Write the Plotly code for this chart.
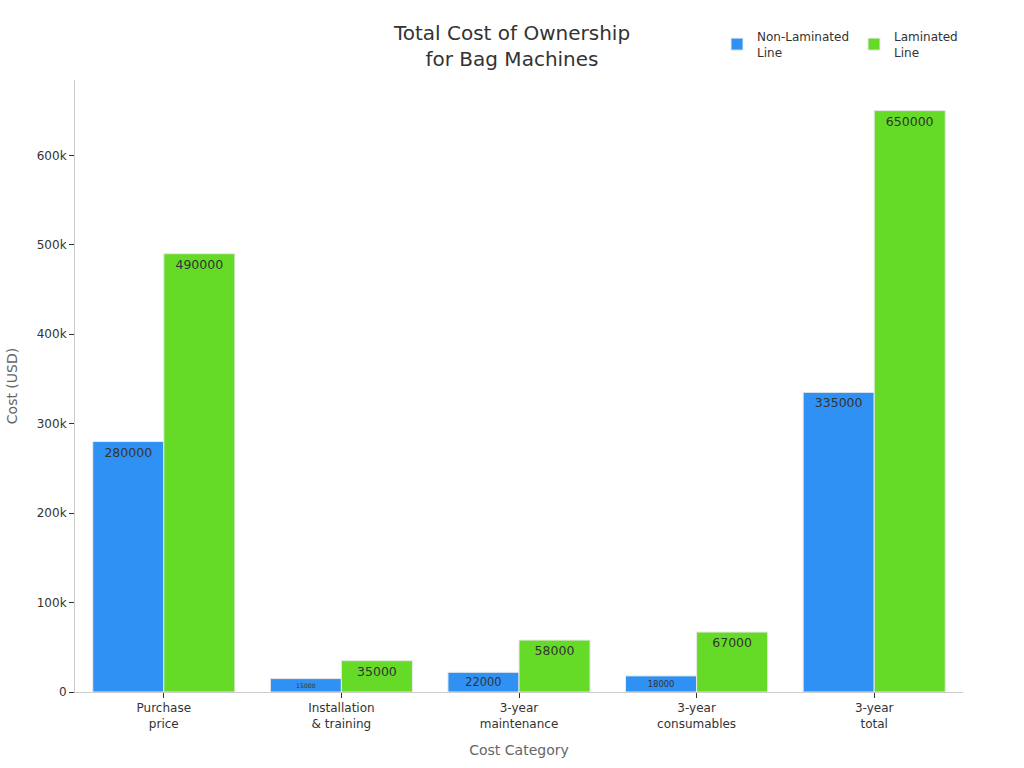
import plotly.graph_objects as go

categories = ["Purchase<br>price", "Installation<br>& training", "3-year<br>maintenance", "3-year<br>consumables", "3-year<br>total"]
non_laminated = [280000, 15000, 22000, 18000, 335000]
laminated = [490000, 35000, 58000, 67000, 650000]
series_names = ["Non-Laminated<br>Line", "Laminated<br>Line"]
colors = ["#3091f5", "#66db27"]

fig = go.Figure()
for name, vals, col in zip(series_names, [non_laminated, laminated], colors):
    fig.add_trace(go.Bar(
        x=categories, y=vals, name=name,
        marker=dict(color=col, line=dict(color="#e8e8e8", width=1)),
        text=[str(v) for v in vals], textposition="inside", insidetextanchor="end",
        insidetextfont=dict(color="#333333", size=12.5),
        textangle=0,
    ))

fig.update_layout(
    width=1024, height=768,
    margin=dict(l=75, r=61, t=80, b=76),
    paper_bgcolor="white", plot_bgcolor="white",
    font=dict(family="DejaVu Sans", color="#333333", size=12),
    title=dict(text="Total Cost of Ownership<br>for Bag Machines", x=0.5, xanchor="center",
               y=0.948, yanchor="middle", font=dict(size=20, color="#333333")),
    barmode="group", bargap=0.2, bargroupgap=0,
    legend=dict(orientation="h", x=0.723, y=1.058, xanchor="left", yanchor="middle",
                font=dict(size=12), itemwidth=30),
    xaxis=dict(title=dict(text="Cost Category", font=dict(size=14, color="#666666"), standoff=15),
               showline=True, linecolor="#cccccc", ticks="outside", ticklen=5, tickcolor="#333333",
               showgrid=False),
    yaxis=dict(title=dict(text="Cost (USD)", font=dict(size=14, color="#666666")),
               showline=True, linecolor="#cccccc", ticks="outside", ticklen=5, tickcolor="#333333",
               showgrid=False, zeroline=False, tickformat="~s", dtick=100000),
)

fig.write_html("out.html")
